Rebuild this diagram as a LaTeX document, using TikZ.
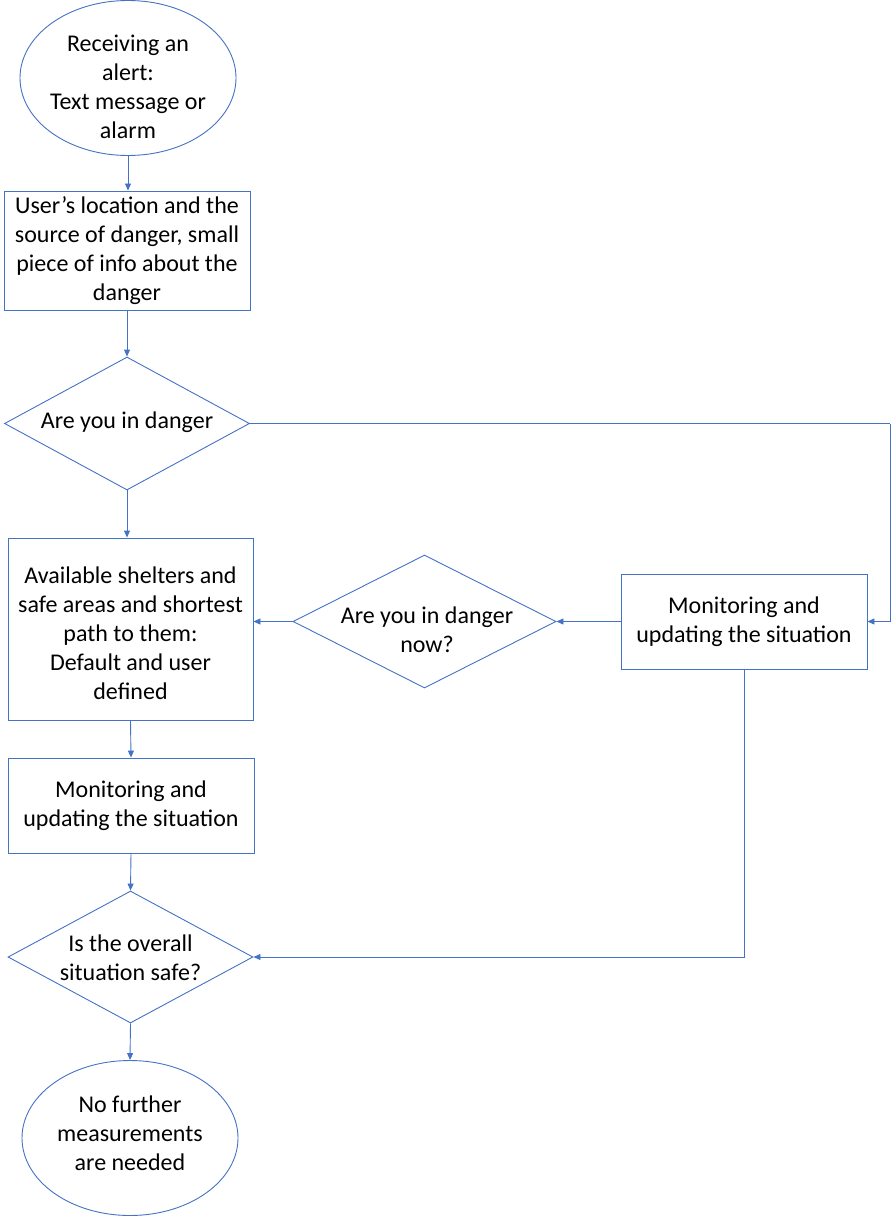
\documentclass[tikz,border=0pt]{standalone}
\usepackage{fontspec}
\setmainfont{Carlito}
\usetikzlibrary{shapes.geometric,arrows.meta}
\definecolor{flowblue}{HTML}{4472C4}
\begin{document}
\begin{tikzpicture}[x=1pt,y=-1pt,
  txt/.style={font=\fontsize{24}{29}\selectfont, align=center, text=black},
  shp/.style={draw=flowblue, line width=0.9pt, inner sep=0pt},
  oval/.style={shp, ellipse, minimum width=216pt, minimum height=155pt},
  boxn/.style={shp, rectangle, txt},
  dia/.style={shp, diamond},
  conn/.style={draw=flowblue, line width=0.9pt, -{Triangle[length=7pt,width=6pt]}},
  plain/.style={draw=flowblue, line width=0.9pt}]
\useasboundingbox (0,0) rectangle (892,1217);
\node[oval] (start) at (128,78) {};
\node[txt] (startt) at (128,87) {Receiving an\\alert:\\Text message or\\alarm};
\node[boxn, minimum width=246pt, minimum height=119pt] (loc) at (127,250.5) {User’s location and the\\source of danger, small\\piece of info about the\\danger};
\node[dia, minimum width=245pt, minimum height=133pt, aspect=1.84] (d1) at (127,423.5) {};
\node[txt] (d1t) at (127,422) {Are you in danger};
\node[boxn, minimum width=245pt, minimum height=182pt] (shel) at (130.5,629) {};
\node[txt] (shelt) at (130.5,633) {Available shelters and\\safe areas and shortest\\path to them:\\Default and user\\defined};
\node[dia, minimum width=263pt, minimum height=133pt, aspect=1.98] (d2) at (424.5,621.5) {};
\node[txt] (d2t) at (427,630) {Are you in danger\\now?};
\node[boxn, minimum width=246pt, minimum height=95pt] (mon1) at (744,621.5) {Monitoring and\\updating the situation};
\node[boxn, minimum width=246pt, minimum height=95pt] (mon2) at (131,805.5) {Monitoring and\\updating the situation};
\node[dia, minimum width=245pt, minimum height=132pt, aspect=1.86] (d3) at (130.5,957) {};
\node[txt] (d3t) at (130.5,958) {Is the overall\\situation safe?};
\node[oval] (end) at (130,1138) {};
\node[txt] (endt) at (130,1133) {No further\\measurements\\are needed};
\coordinate (c1) at (890,423.5);
\coordinate (c2) at (744,957);

\draw[conn] (start.south) -- (start.south |- loc.north);
\draw[conn] (loc.south) -- (d1.north);
\draw[conn] (d1.south) -- (d1.south |- shel.north);
\draw[plain] (d1.east) -- (c1);
\draw[conn] (c1) -- (c1 |- mon1.east) -- (mon1.east);
\draw[conn] (mon1.west) -- (d2.east);
\draw[conn] (d2.west) -- (d2.west -| shel.east);
\draw[conn] (shel.south) -- (mon2.north);
\draw[conn] (mon2.south) -- (d3.north);
\draw[conn] (mon1.south) -- (c2) -- (d3.east);
\draw[conn] (d3.south) -- (end.north);
\end{tikzpicture}
\end{document}
